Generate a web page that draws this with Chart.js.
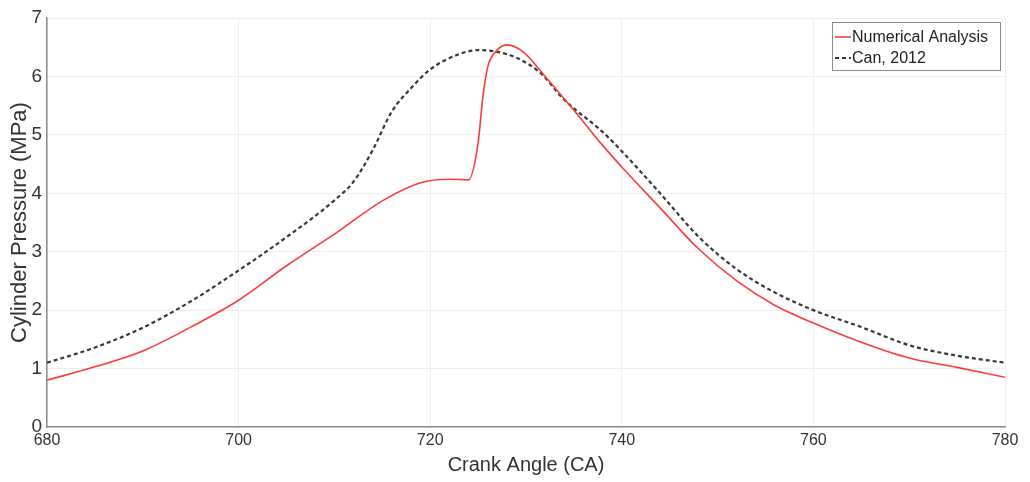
<!DOCTYPE html>
<html>
<head>
  <title>Cylinder Pressure vs Crank Angle</title>
  <script src="https://cdn.jsdelivr.net/npm/chart.js"></script>
  <style>
    body { margin: 0; background: #fff; }
  </style>
</head>
<body>
  <canvas id="chart" width="1030" height="482"></canvas>

  <script>
    // values
    const numAngles = [680, 685, 690, 695, 700, 705, 710, 715, 719, 722, 724, 725, 725.5, 726, 727, 728, 729.7, 732, 735, 738, 740, 744, 748, 752, 756, 760, 765, 770, 775, 780];
    const numPressure = [0.80, 1.03, 1.30, 1.71, 2.17, 2.76, 3.30, 3.87, 4.18, 4.24, 4.23, 4.86, 5.65, 6.16, 6.45, 6.54, 6.42, 6.00, 5.42, 4.82, 4.45, 3.75, 3.05, 2.50, 2.08, 1.78, 1.45, 1.18, 1.02, 0.85];

    const canAngles = [680, 685, 690, 695, 700, 705, 710, 712, 714, 716, 718, 720, 723, 725, 727, 729, 731.5, 734, 738, 740, 744, 748, 752, 756, 760, 765, 770, 775, 780];
    const canPressure = [1.10, 1.36, 1.70, 2.15, 2.68, 3.25, 3.88, 4.20, 4.74, 5.40, 5.80, 6.12, 6.38, 6.45, 6.42, 6.32, 6.06, 5.60, 5.05, 4.72, 4.00, 3.26, 2.70, 2.30, 2.00, 1.71, 1.40, 1.22, 1.10];

    const seriesNames = ['Numerical Analysis', 'Can, 2012'];

    const toPoints = (xs, ys) => xs.map((x, k) => ({ x: x, y: ys[k] }));

    const fontFamily = '"Liberation Sans", Arial, sans-serif';

    // MATLAB-style legend box in the top right corner
    const boxLegend = {
      id: 'boxLegend',
      afterDraw(chart) {
        const c = chart.ctx;
        const area = chart.chartArea;
        const w = 168, h = 48;
        const x0 = area.right - w - 5, y0 = area.top + 4;
        c.save();
        c.fillStyle = '#fff';
        c.fillRect(x0, y0, w, h);
        c.strokeStyle = '#8a8a8a';
        c.lineWidth = 1;
        c.strokeRect(x0 + 0.5, y0 + 0.5, w, h);
        c.font = '16px ' + fontFamily;
        c.textBaseline = 'middle';
        chart.data.datasets.forEach((ds, k) => {
          const ly = y0 + 15 + k * 21;
          c.beginPath();
          c.strokeStyle = ds.borderColor;
          c.lineWidth = ds.borderWidth;
          c.setLineDash(ds.borderDash || []);
          c.moveTo(x0 + 3, ly);
          c.lineTo(x0 + 19, ly);
          c.stroke();
          c.setLineDash([]);
          c.fillStyle = '#222';
          c.fillText(ds.label, x0 + 20, ly + 1);
        });
        c.restore();
      }
    };

    const ctx = document.getElementById('chart').getContext('2d');
    const chart = new Chart(ctx, {
      type: 'line',
      data: {
        datasets: [
          {
            label: seriesNames[0],
            data: toPoints(numAngles, numPressure),
            borderColor: '#ff3b3b',
            borderWidth: 1.6,
            pointRadius: 0,
            cubicInterpolationMode: 'monotone',
            fill: false
          },
          {
            label: seriesNames[1],
            data: toPoints(canAngles, canPressure),
            borderColor: '#383838',
            borderWidth: 2.2,
            borderDash: [4, 3],
            pointRadius: 0,
            cubicInterpolationMode: 'monotone',
            fill: false
          }
        ]
      },
      options: {
        responsive: false,
        animation: false,
        layout: { padding: { top: 18, right: 25, left: 0, bottom: 0 } },
        plugins: {
          legend: { display: false },
          tooltip: { enabled: false }
        },
        scales: {
          x: {
            type: 'linear',
            min: 680,
            max: 780,
            ticks: { stepSize: 20, color: '#333', padding: 4, font: { family: fontFamily, size: 16 } },
            grid: { color: '#eeeeee', tickLength: 0 },
            border: { color: '#8c8c8c', width: 1.5 },
            title: { display: true, text: 'Crank Angle (CA)', color: '#333', padding: { top: 0, bottom: 5 }, font: { family: fontFamily, size: 20 } },
            afterFit(scale) { scale.height = 55; }
          },
          y: {
            min: 0,
            max: 7,
            ticks: { stepSize: 1, color: '#333', padding: 5, font: { family: fontFamily, size: 19 } },
            grid: { color: '#eeeeee', tickLength: 0 },
            border: { color: '#8c8c8c', width: 1.5 },
            title: { display: true, text: 'Cylinder Pressure (MPa)', color: '#333', padding: { top: 7, bottom: 0 }, font: { family: fontFamily, size: 22 } },
            afterFit(scale) { scale.width = 47; }
          }
        }
      },
      plugins: [boxLegend]
    });
  </script>
</body>
</html>
